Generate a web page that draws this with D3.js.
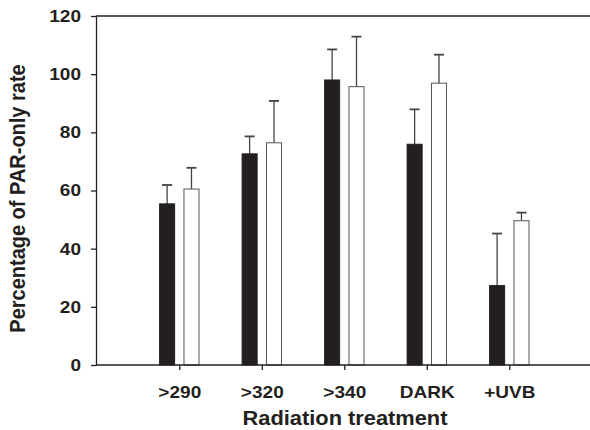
<!DOCTYPE html>
<html>
<head>
<meta charset="utf-8">
<script src="https://d3js.org/d3.v7.min.js"></script>
<style>
  body { margin: 0; background: #fff; }
  text { font-family: "Liberation Sans", Arial, sans-serif; font-weight: bold; fill: #231f20; }
  .axis path, .axis line { stroke: #231f20; stroke-width: 1.3; }
  .axis text { font-size: 17px; }
</style>
</head>
<body>
<script>
// data
var categories = [">290", ">320", ">340", "DARK", "+UVB"];
var darkVals  = [55.4, 72.6, 98.0, 75.9, 27.3];
var darkErr   = [61.9, 78.6, 108.5, 87.9, 45.2];
var lightVals = [60.5, 76.4, 95.7, 96.9, 49.6];
var lightErr  = [67.8, 90.8, 112.9, 106.7, 52.4];
var yTicks = [0, 20, 40, 60, 80, 100, 120];

var width = 590, height = 430;
var plotLeft = 96, plotRight = 590, plotTop = 16, plotBottom = 365;
var stretch = 1.12; // the original type is a little wide

var svg = d3.select("body").append("svg")
  .attr("width", width).attr("height", height);

var y = d3.scaleLinear().domain([0, 120]).range([plotBottom, plotTop]);
var x = d3.scalePoint().domain(categories).range([179.3, 509.3]);
var sub = d3.scaleBand().domain(["dark", "light"]).range([-19.7, 19.7]).paddingInner(0.383);

var rows = categories.map(function(c, i) {
  return [
    {cat: c, key: "dark", v: darkVals[i], e: darkErr[i]},
    {cat: c, key: "light", v: lightVals[i], e: lightErr[i]}
  ];
});
var bars = [].concat.apply([], rows);

// top frame line
svg.append("line")
  .attr("x1", plotLeft).attr("x2", plotRight)
  .attr("y1", y(120)).attr("y2", y(120))
  .attr("stroke", "#231f20").attr("stroke-width", 1.3);

// error bars (behind bars)
var err = svg.append("g").selectAll("g").data(bars).enter().append("g")
  .attr("stroke", "#444").attr("stroke-width", 1.3);
err.append("line")
  .attr("x1", function(d) { return x(d.cat) + sub(d.key) + sub.bandwidth() / 2; })
  .attr("x2", function(d) { return x(d.cat) + sub(d.key) + sub.bandwidth() / 2; })
  .attr("y1", function(d) { return y(d.v); })
  .attr("y2", function(d) { return y(d.e); });
err.append("line")
  .attr("x1", function(d) { return x(d.cat) + sub(d.key) + sub.bandwidth() / 2 - 5; })
  .attr("x2", function(d) { return x(d.cat) + sub(d.key) + sub.bandwidth() / 2 + 5; })
  .attr("y1", function(d) { return y(d.e); })
  .attr("y2", function(d) { return y(d.e); })
  .attr("stroke-width", 1.8);

// bars
svg.append("g").selectAll("rect").data(bars).enter().append("rect")
  .attr("x", function(d) { return x(d.cat) + sub(d.key); })
  .attr("y", function(d) { return y(d.v); })
  .attr("width", sub.bandwidth())
  .attr("height", function(d) { return y(0) - y(d.v); })
  .attr("fill", function(d) { return d.key == "dark" ? "#231f20" : "#fff"; })
  .attr("stroke", function(d) { return d.key == "dark" ? "#231f20" : "#555"; })
  .attr("stroke-width", 1);

// y axis
svg.append("g").attr("class", "axis")
  .attr("transform", "translate(" + plotLeft + ",0)")
  .call(d3.axisLeft(y).tickValues(yTicks).tickSize(5).tickPadding(8.4).tickSizeOuter(0))
  .selectAll("text").attr("transform", "scale(" + stretch + ",1)");

// x axis
var xa = svg.append("g").attr("class", "axis")
  .attr("transform", "translate(0," + plotBottom + ")")
  .call(d3.axisBottom(x).tickSize(5).tickPadding(16).tickSizeOuter(0));
xa.select(".domain").remove();
xa.selectAll("text").attr("transform", "scale(" + stretch + ",1)");
xa.append("line").attr("x1", plotLeft).attr("x2", plotRight);

// axis titles
svg.append("text")
  .attr("transform", "translate(" + ((plotLeft + plotRight) / 2 + 2) + ",425) scale(" + stretch + ",1)")
  .attr("text-anchor", "middle").style("font-size", "19.5px")
  .text("Radiation treatment");

svg.append("text")
  .attr("transform", "translate(24.5,198.5) rotate(-90) scale(1," + stretch + ")")
  .attr("text-anchor", "middle").style("font-size", "20px")
  .text("Percentage of PAR-only rate");
</script>
</body>
</html>
